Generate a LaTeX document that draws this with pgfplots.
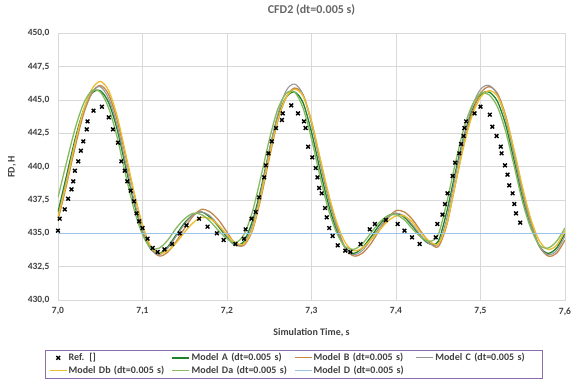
\documentclass[border=0pt]{standalone}
\usepackage{pgfplots}
\pgfplotsset{compat=1.18}
\usepackage{pgfplotstable}
\usepackage{fontspec}
\setmainfont{Carlito}
\definecolor{cA}{RGB}{30,130,40}
\definecolor{cB}{RGB}{195,135,75}
\definecolor{cC}{RGB}{150,150,150}
\definecolor{cDb}{RGB}{235,190,45}
\definecolor{cDa}{RGB}{135,185,95}
\definecolor{cD}{RGB}{157,195,230}
\definecolor{txt}{RGB}{64,64,64}
\definecolor{gridc}{RGB}{217,217,217}
\definecolor{legc}{RGB}{140,110,170}
\pgfplotsset{lineleg/.style={legend image code/.code={\draw[##1] (0pt,0pt) -- (17pt,0pt);}}}
\pgfplotstableread{
t A B C Db Da
7.00 436.6 436.0 436.3 436.2 437.7
7.01 439.3 438.6 439.0 438.8 440.3
7.02 442.0 441.4 441.8 441.7 442.8
7.03 444.2 443.9 444.1 444.2 444.7
7.04 445.5 445.5 445.6 445.8 445.7
7.05 445.7 446.1 446.0 446.4 445.6
7.06 444.8 445.4 445.1 445.7 444.4
7.07 442.8 443.5 443.1 443.8 442.2
7.08 440.0 440.8 440.3 441.0 439.4
7.09 437.3 438.0 437.5 438.1 436.8
7.10 435.1 435.6 435.2 435.6 434.9
7.11 433.8 433.9 433.8 434.0 433.9
7.12 433.5 433.3 433.4 433.5 433.9
7.13 434.0 433.6 433.9 433.7 434.5
7.14 434.9 434.4 434.8 434.3 435.4
7.15 435.8 435.4 435.7 435.1 436.1
7.16 436.4 436.3 436.4 435.8 436.5
7.17 436.6 436.8 436.6 436.2 436.4
7.18 436.2 436.6 436.3 436.1 435.9
7.19 435.5 436.0 435.6 435.6 435.2
7.20 434.7 435.1 434.8 434.9 434.6
7.21 434.1 434.2 434.1 434.3 434.3
7.22 434.4 434.1 434.2 434.2 434.9
7.23 435.9 435.2 435.6 435.3 436.6
7.24 438.3 437.6 438.1 437.8 439.2
7.25 441.2 440.6 441.2 440.8 442.0
7.26 443.7 443.4 443.9 443.5 444.3
7.27 445.2 445.2 445.7 445.2 445.5
7.28 445.6 445.9 446.2 445.8 445.6
7.29 444.8 445.4 445.4 445.3 444.4
7.30 442.6 443.4 443.2 443.4 442.1
7.31 439.8 440.6 440.3 440.7 439.3
7.32 437.2 437.9 437.6 438.0 436.8
7.33 435.2 435.6 435.4 435.8 435.0
7.34 433.9 433.9 433.9 434.3 434.0
7.35 433.5 433.3 433.4 433.7 433.8
7.36 433.9 433.5 433.7 433.9 434.2
7.37 434.7 434.2 434.5 434.5 435.0
7.38 435.6 435.2 435.4 435.2 435.8
7.39 436.3 436.1 436.2 435.9 436.3
7.40 436.5 436.7 436.5 436.3 436.4
7.41 436.2 436.6 436.3 436.3 436.0
7.42 435.5 436.0 435.6 435.8 435.3
7.43 434.7 435.1 434.8 435.0 434.7
7.44 434.2 434.3 434.2 434.4 434.4
7.45 434.4 434.0 434.2 434.2 434.9
7.46 436.6 435.6 436.1 435.7 437.3
7.47 439.5 438.6 439.2 438.6 440.2
7.48 442.2 441.6 442.1 441.5 442.8
7.49 444.2 444.0 444.5 443.8 444.6
7.50 445.4 445.5 445.8 445.2 445.5
7.51 445.6 446.0 446.1 445.7 445.4
7.52 444.9 445.5 445.4 445.3 444.5
7.53 443.1 443.8 443.5 443.7 442.6
7.54 440.4 441.1 440.8 441.2 440.0
7.55 437.6 438.2 437.9 438.4 437.3
7.56 435.5 435.8 435.6 436.0 435.3
7.57 434.0 434.0 434.0 434.4 434.1
7.58 433.5 433.3 433.4 433.8 433.9
7.59 433.9 433.5 433.7 434.1 434.4
7.60 435.0 434.5 434.8 435.2 435.4
}\models
\pgfplotstableread{
t y
7.000 435.2
7.002 436.1
7.008 436.8
7.012 437.6
7.016 438.3
7.018 438.9
7.020 439.7
7.024 440.4
7.027 441.2
7.030 441.9
7.034 442.8
7.035 443.4
7.042 444.2
7.052 444.5
7.060 443.7
7.065 442.8
7.071 441.8
7.075 440.4
7.079 439.7
7.082 438.9
7.086 438.2
7.090 437.4
7.093 436.5
7.096 435.9
7.100 435.4
7.106 434.6
7.112 433.9
7.118 433.6
7.126 433.8
7.135 434.2
7.144 435.0
7.152 435.6
7.167 436.1
7.177 435.5
7.188 435.0
7.196 434.5
7.210 434.2
7.220 434.6
7.222 435.3
7.229 436.1
7.234 436.6
7.238 437.7
7.244 439.2
7.246 440.1
7.249 441.0
7.253 441.9
7.258 442.9
7.265 443.5
7.266 444.0
7.276 444.6
7.284 444.0
7.291 443.4
7.293 442.9
7.296 441.5
7.301 440.7
7.305 439.9
7.307 439.2
7.309 438.4
7.312 438.0
7.316 436.9
7.318 436.2
7.321 435.4
7.325 434.8
7.331 434.1
7.340 433.7
7.346 433.6
7.358 434.2
7.369 435.3
7.375 435.7
7.388 436.0
7.402 435.7
7.410 435.2
7.419 434.7
7.428 434.2
7.447 434.7
7.449 435.7
7.455 436.4
7.458 437.2
7.461 438.0
7.467 439.3
7.470 440.3
7.475 441.0
7.477 441.7
7.480 442.3
7.481 442.9
7.483 443.4
7.493 444.0
7.500 444.5
7.511 443.9
7.514 443.0
7.519 442.3
7.524 441.5
7.525 441.0
7.529 440.1
7.532 439.4
7.534 438.6
7.538 438.0
7.540 437.2
7.542 436.5
7.547 435.8
}\refdata
\begin{document}
\begin{tikzpicture}
\begin{axis}[
  scale only axis,
  width=507pt, height=266.6pt,
  xmin=7.0, xmax=7.6, ymin=430, ymax=450,
  xtick={7.0,7.1,...,7.6}, ytick={430,432.5,...,450},
  /pgf/number format/assume math mode=true,
  /pgf/number format/use comma,
  /pgf/number format/fixed,
  /pgf/number format/fixed zerofill,
  /pgf/number format/precision=1,
  ticklabel style={font=\bfseries\fontsize{9.5}{11}\selectfont, text=txt},
  xticklabel style={yshift=-4pt},
  yticklabel style={xshift=-5pt},
  major tick length=0pt,
  grid=major, grid style={gridc, line width=0.6pt},
  axis line style={gridc, line width=0.8pt},
  title={CFD2 (dt=0.005 s)},
  title style={at={(axis description cs:0.5,1)}, anchor=center, yshift=17pt,
    font=\bfseries\fontsize{12}{14}\selectfont, text=txt!80},
  xlabel={Simulation Time, s},
  ylabel={FD, H},
  label style={font=\bfseries\fontsize{10}{12}\selectfont, text=txt},
  xlabel style={at={(axis description cs:0.5,0)}, anchor=center, yshift=-33pt},
  ylabel style={at={(axis description cs:0,0.5)}, anchor=center, yshift=46pt},
  legend columns=4,
  legend style={at={(axis description cs:-0.0257,-0.188)}, anchor=north west,
    draw=legc, line width=0.6pt, font=\bfseries\fontsize{10}{12}\selectfont, text=txt,
    column sep=0pt, inner xsep=4pt, inner ysep=2pt, row sep=2pt,
    nodes={text width=101pt, inner xsep=1.5pt, inner ysep=1pt}},
  legend cell align=left,
]
\addplot[only marks, mark=x, mark size=2.6pt, line width=1.4pt, black]
  table[x=t,y=y]{\refdata};
\addlegendentry{Ref. []}
\addplot[cA, line width=1.3pt, smooth, lineleg, legend image post style={line width=2pt}] table[x=t,y=A]{\models};
\addlegendentry{Model A (dt=0.005 s)}
\addplot[cB, line width=1.3pt, smooth, lineleg, legend image post style={line width=0.9pt}] table[x=t,y=B]{\models};
\addlegendentry{Model B (dt=0.005 s)}
\addplot[cC, line width=1.1pt, smooth, lineleg, legend image post style={line width=0.8pt}] table[x=t,y=C]{\models};
\addlegendentry{Model C (dt=0.005 s)}
\addplot[cDb, line width=1.3pt, smooth, lineleg, legend image post style={line width=0.9pt}] table[x=t,y=Db]{\models};
\addlegendentry{Model Db (dt=0.005 s)}
\addplot[cDa, line width=1.3pt, smooth, lineleg, legend image post style={line width=0.9pt}] table[x=t,y=Da]{\models};
\addlegendentry{Model Da (dt=0.005 s)}
\addplot[cD, line width=1.3pt, lineleg, legend image post style={line width=0.9pt}] coordinates {(7.0,435) (7.6,435)};
\addlegendentry{Model D (dt=0.005 s)}
\end{axis}
\pgfresetboundingbox
\path (-58pt,-87pt) rectangle (513pt,300pt);
\end{tikzpicture}
\end{document}
